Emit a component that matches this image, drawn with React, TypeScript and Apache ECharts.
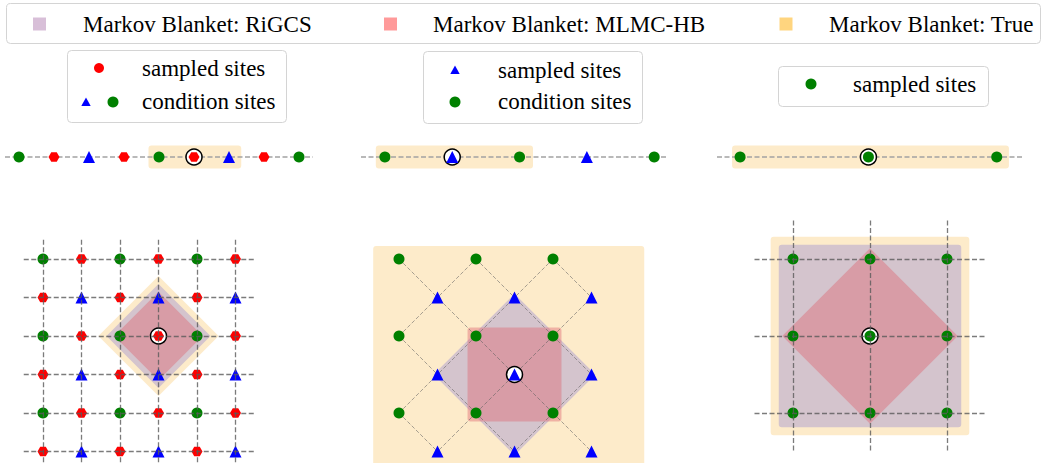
import { useEffect, useRef } from 'react';
import * as echarts from 'echarts';

// ---- 1D chains (site index along the chain) ----
const chainRedByPanel = [[1, 3, 5, 7], [], []];
const chainBlueByPanel = [[2, 6], [2, 6], []];
const chainGreenByPanel = [[0, 4, 8], [0, 4, 8], [0, 4, 8]];
const chainCenters = [5, 2, 4];
const chainTrue = [[3.7, 6.35], [-0.27, 4.4], [-0.25, 8.38]];
const chainExtent = [[-0.4, 8.4], [-0.71, 8.41], [-0.72, 8.85]];

// ---- 2D lattices, sites as [col, row] ----
const latticeGreen = [[0, 0], [2, 0], [4, 0], [0, 2], [2, 2], [4, 2], [0, 4], [2, 4], [4, 4]];
const latticeBlue = [[1, 1], [3, 1], [5, 1], [1, 3], [3, 3], [5, 3], [1, 5], [3, 5], [5, 5]];
const latticeRed = [
  [1, 0], [3, 0], [5, 0], [0, 1], [2, 1], [4, 1], [1, 2], [3, 2], [5, 2],
  [0, 3], [2, 3], [4, 3], [1, 4], [3, 4], [5, 4], [0, 5], [2, 5], [4, 5],
];
const latticeRedByPanel = [latticeRed, [], []];
const latticeBlueByPanel = [latticeBlue, latticeBlue, []];
const latticeGreenByPanel = [latticeGreen, latticeGreen, latticeGreen];
const latticeCenters = [[3, 2], [3, 3], [2, 2]];
const gridLineSites = [[0, 1, 2, 3, 4, 5], [], [0, 2, 4]];
const gridLineExtent = [[-0.5, 5.5], [0, 0], [-1, 5]];

// Markov blankets: diamonds as half-diagonal, rectangles as [x0, y0, x1, y1]
const trueDiamond1 = 1.56;
const rigcsDiamond1 = 1.35;
const mlmcDiamond1 = 1.15;
const trueRect2 = [-0.67, -0.34, 6.37, 6.7];
const rigcsDiamond2 = 2.1;
const mlmcSquare2 = 1.22;
const trueRect3 = [-0.58, -0.58, 4.58, 4.58];
const rigcsRect3 = [-0.37, -0.37, 4.37, 4.37];
const mlmcDiamond3 = 2.28;

const legendLabels = ['Markov Blanket: RiGCS', 'Markov Blanket: MLMC-HB', 'Markov Blanket: True'];

const C_TRUE = '#fdebca';
const C_RIGCS = '#d4c4cd';
const C_MLMC = 'rgba(222,100,112,0.42)';
const RED = '#ff0000';
const BLUE = '#0000ff';
const GREEN = '#008000';
const HEX = 'path://M0,8.66 L5,0 L15,0 L20,8.66 L15,17.32 L5,17.32 Z';
const FONT = '23px "Liberation Serif", "Times New Roman", serif';

// lattice unit in pixels and the visible axis window
const UNIT = 38.5;
const LAT_MIN = -1.2;
const LAT_MAX = 5.29;

function diamondSeries(ax: number, center: number[], half: number, fill: string, z: number) {
  return {
    type: 'custom', xAxisIndex: ax, yAxisIndex: ax, z, silent: true, clip: false,
    data: [[center[0], center[1], half]],
    renderItem: (_p: any, api: any) => {
      const cx = api.value(0), cy = api.value(1), h = api.value(2);
      const pts = [[cx, cy - h], [cx + h, cy], [cx, cy + h], [cx - h, cy]].map((p) => api.coord(p));
      return { type: 'polygon', shape: { points: pts }, style: { fill } };
    },
  };
}

function rectSeries(ax: number, r: number[], fill: string, z: number) {
  return {
    type: 'custom', xAxisIndex: ax, yAxisIndex: ax, z, silent: true, clip: false,
    data: [r],
    renderItem: (_p: any, api: any) => {
      const a = api.coord([api.value(0), api.value(1)]);
      const b = api.coord([api.value(2), api.value(3)]);
      return {
        type: 'rect',
        shape: { x: Math.min(a[0], b[0]), y: Math.min(a[1], b[1]), width: Math.abs(b[0] - a[0]), height: Math.abs(b[1] - a[1]), r: 3 },
        style: { fill },
      };
    },
  };
}

function scatter(ax: number, data: number[][], symbol: string, size: number, color: string, z: number) {
  return {
    type: 'scatter', xAxisIndex: ax, yAxisIndex: ax, z, silent: true, clip: false,
    symbol, symbolSize: size, symbolKeepAspect: true,
    itemStyle: { color, opacity: 1 },
    data,
  };
}

function ring(ax: number, p: number[]) {
  return {
    type: 'scatter', xAxisIndex: ax, yAxisIndex: ax, z: 3, silent: true, clip: false,
    symbol: 'circle', symbolSize: 16,
    itemStyle: { color: '#ffffff', borderColor: '#000000', borderWidth: 1.5, opacity: 1 },
    data: [p],
  };
}

function dashed(ax: number, segs: number[][][], color: string, width: number, z: number, dash: number[]) {
  return {
    type: 'lines', coordinateSystem: 'cartesian2d', xAxisIndex: ax, yAxisIndex: ax, z, silent: true, clip: false,
    lineStyle: { color, width, type: dash, opacity: 1 },
    data: segs.map((coords) => ({ coords })),
  };
}

function buildOption() {
  const grids: any[] = [];
  const xAxes: any[] = [];
  const yAxes: any[] = [];
  const series: any[] = [];

  // chain panels
  const chainLeft = [5, 361, 717];
  const chainWidth = [308, 307, 307];
  for (let p = 0; p < 3; p++) {
    grids.push({ left: chainLeft[p], top: 137, width: chainWidth[p], height: 40 });
    xAxes.push({ gridIndex: p, type: 'value', min: chainExtent[p][0], max: chainExtent[p][1], show: false });
    yAxes.push({ gridIndex: p, type: 'value', min: -1, max: 1, show: false });
    series.push(rectSeries(p, [chainTrue[p][0], -0.575, chainTrue[p][1], 0.575], C_TRUE, 1));
    series.push(dashed(p, [[[chainExtent[p][0], 0], [chainExtent[p][1], 0]]], '#a3a3a3', 1.5, 2, [5, 2.5]));
    series.push(ring(p, [chainCenters[p], 0]));
    series.push(scatter(p, chainGreenByPanel[p].map((x) => [x, 0]), 'circle', 11, GREEN, 4));
    series.push(scatter(p, chainRedByPanel[p].map((x) => [x, 0]), HEX, 11, RED, 4));
    series.push(scatter(p, chainBlueByPanel[p].map((x) => [x, 0]), 'triangle', 12, BLUE, 4));
  }

  // lattice panels: column 0 sits at these pixel x positions, row 0 at y = 259
  const col0 = [43, 399, 793];
  for (let p = 0; p < 3; p++) {
    const ax = p + 3;
    grids.push({
      left: col0[p] - UNIT, top: 259 + LAT_MIN * UNIT,
      width: 7 * UNIT, height: (LAT_MAX - LAT_MIN) * UNIT,
    });
    xAxes.push({ gridIndex: ax, type: 'value', min: -1, max: 6, show: false });
    yAxes.push({ gridIndex: ax, type: 'value', min: LAT_MIN, max: LAT_MAX, inverse: true, show: false });
    const c = latticeCenters[p];
    if (p === 0) {
      series.push(diamondSeries(ax, c, trueDiamond1, C_TRUE, 1));
      series.push(diamondSeries(ax, c, rigcsDiamond1, C_RIGCS, 1));
      series.push(diamondSeries(ax, c, mlmcDiamond1, C_MLMC, 1));
    } else if (p === 1) {
      series.push(rectSeries(ax, trueRect2, C_TRUE, 1));
      series.push(diamondSeries(ax, c, rigcsDiamond2, C_RIGCS, 1));
      series.push(rectSeries(ax, [c[0] - mlmcSquare2, c[1] - mlmcSquare2, c[0] + mlmcSquare2, c[1] + mlmcSquare2], C_MLMC, 1));
    } else {
      series.push(rectSeries(ax, trueRect3, C_TRUE, 1));
      series.push(rectSeries(ax, rigcsRect3, C_RIGCS, 1));
      series.push(diamondSeries(ax, c, mlmcDiamond3, C_MLMC, 1));
    }

    if (p === 1) {
      // diagonal bonds between neighbouring condition sites
      const segs: number[][][] = [];
      latticeGreenByPanel[p].forEach((g) => {
        latticeBlueByPanel[p].forEach((b) => {
          if (Math.abs(g[0] - b[0]) === 1 && Math.abs(g[1] - b[1]) === 1) segs.push([g, b]);
        });
      });
      series.push(dashed(ax, segs, 'rgba(95,95,95,0.55)', 1, 2, [4, 2]));
    } else {
      const sites = gridLineSites[p];
      const [e0, e1] = gridLineExtent[p];
      const segs: number[][][] = [];
      sites.forEach((s) => {
        segs.push([[e0, s], [e1, s]]);
        segs.push([[s, e0], [s, e1]]);
      });
      series.push(dashed(ax, segs, 'rgba(90,90,90,0.8)', 1.3, 6, [5, 2.5]));
    }

    series.push(ring(ax, c));
    series.push(scatter(ax, latticeGreenByPanel[p], 'circle', 11, GREEN, 4));
    series.push(scatter(ax, latticeRedByPanel[p], HEX, 11, RED, 4));
    series.push(scatter(ax, latticeBlueByPanel[p], 'triangle', 12, BLUE, 4));
  }

  const txt = (x: number, y: number, text: string) => ({
    type: 'text', z: 100, silent: true,
    style: { x, y, text, fill: '#000', font: FONT, align: 'left', verticalAlign: 'middle' },
  });
  const box = (x: number, y: number, w: number, h: number) => ({
    type: 'rect', z: 99, silent: true,
    shape: { x, y, width: w, height: h, r: 4 },
    style: { fill: 'rgba(255,255,255,0.85)', stroke: '#d4d4d4', lineWidth: 1 },
  });
  const sq = (cx: number, color: string) => ({
    type: 'rect', z: 100, silent: true,
    shape: { x: cx - 6.5, y: 17.5, width: 13, height: 13 },
    style: { fill: color },
  });
  const dot = (cx: number, cy: number, r: number, color: string) => ({
    type: 'circle', z: 100, silent: true, shape: { cx, cy, r }, style: { fill: color },
  });
  const tri = (cx: number, cy: number, color: string) => ({
    type: 'polygon', z: 100, silent: true,
    shape: { points: [[cx, cy - 4.5], [cx + 4.7, cy + 4], [cx - 4.7, cy + 4]] },
    style: { fill: color },
  });

  const graphic = [
    box(6.5, 3.5, 1034, 40),
    sq(39.5, '#d8bfd8'), txt(83, 24, legendLabels[0]),
    sq(390.5, '#ff9a9a'), txt(433, 24, legendLabels[1]),
    sq(786, '#ffd57f'), txt(829, 24, legendLabels[2]),

    box(67.5, 50.5, 219, 72),
    dot(99, 68, 5, RED), txt(142, 68, 'sampled sites'),
    tri(86, 102, BLUE), dot(113, 102, 5.5, GREEN), txt(142, 101, 'condition sites'),

    box(423.5, 51.5, 219, 72),
    tri(455, 70, BLUE), txt(498, 70, 'sampled sites'),
    dot(455, 102, 5.5, GREEN), txt(498, 101, 'condition sites'),

    box(778.5, 66.5, 210, 40),
    dot(811, 84, 5.5, GREEN), txt(853, 84, 'sampled sites'),
  ];

  return {
    animation: false,
    backgroundColor: '#ffffff',
    grid: grids,
    xAxis: xAxes,
    yAxis: yAxes,
    series,
    graphic,
  };
}

export default function App() {
  const ref = useRef<HTMLDivElement>(null);
  useEffect(() => {
    if (!ref.current) return;
    const chart = echarts.init(ref.current, undefined, { renderer: 'svg' });
    chart.setOption(buildOption() as any);
    return () => chart.dispose();
  }, []);
  return (
    <div
      ref={ref}
      style={{ position: 'absolute', left: 0, top: 0, width: 1045, height: 463, background: '#fff' }}
    />
  );
}
